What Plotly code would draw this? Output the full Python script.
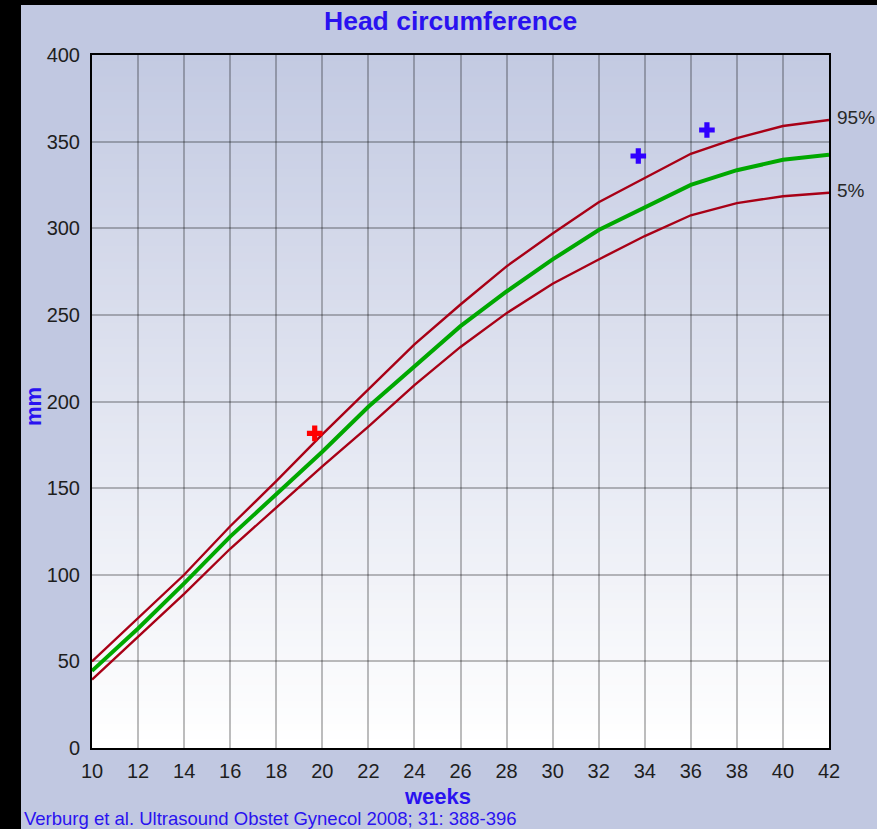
import plotly.graph_objects as go

# ---- data ----
weeks = [10, 12, 14, 16, 18, 20, 22, 24, 26, 28, 30, 32, 34, 36, 38, 40, 42]
p95 = [50, 75, 100, 128, 154, 181, 207, 233, 256, 278, 297, 315, 329, 343, 352, 359, 362.5]
p50 = [44.5, 69, 95, 122, 146.5, 171, 197, 220, 243.5, 263.5, 282, 299, 312, 325, 333.5, 339.5, 342.5]
p5 = [39.5, 64, 89, 115, 139, 162.5, 185.5, 209.5, 231.5, 251, 268, 282, 295.5, 307.5, 314.5, 318.5, 320.5]

meas_red_x = [19.67]
meas_red_y = [181.6]
meas_blue_x = [33.72, 36.7]
meas_blue_y = [341.7, 356.7]

x_ticks = list(range(10, 43, 2))
y_ticks = list(range(0, 401, 50))

# ---- styling ----
W, H = 877, 829
L, R, T, B = 92, 48, 55, 81
PW, PH = W - L - R, H - T - B
BG = "rgb(193,200,225)"
BLUE = "rgb(42,18,240)"
DARKRED = "rgb(168,0,22)"
GREEN = "rgb(0,168,0)"
FONT = "Liberation Sans, Arial, sans-serif"


def px_x(p):
    return (p - L) / PW


def px_y(p):
    return (H - B - p) / PH


fig = go.Figure()

fig.add_trace(go.Scatter(x=weeks, y=p95, mode="lines", line=dict(color=DARKRED, width=2.4),
                         name="95%", hoverinfo="x+y"))
fig.add_trace(go.Scatter(x=weeks, y=p5, mode="lines", line=dict(color=DARKRED, width=2.4),
                         name="5%", hoverinfo="x+y"))
fig.add_trace(go.Scatter(x=weeks, y=p50, mode="lines", line=dict(color=GREEN, width=4),
                         name="50%", hoverinfo="x+y"))
fig.add_trace(go.Scatter(x=meas_red_x, y=meas_red_y, mode="markers",
                         marker=dict(symbol="cross", size=13, color="rgb(255,0,0)", line=dict(width=0)),
                         hoverinfo="x+y"))
fig.add_trace(go.Scatter(x=meas_blue_x, y=meas_blue_y, mode="markers",
                         marker=dict(symbol="cross", size=13, color="rgb(48,0,255)", line=dict(width=0)),
                         hoverinfo="x+y"))

shapes = []
# outer black border strips (left and top)
shapes.append(dict(type="rect", xref="paper", yref="paper", layer="below",
                   x0=px_x(-5), x1=px_x(21), y0=px_y(H + 5), y1=px_y(-5),
                   fillcolor="black", line=dict(width=0)))
shapes.append(dict(type="rect", xref="paper", yref="paper", layer="below",
                   x0=px_x(-5), x1=px_x(W + 5), y0=px_y(5), y1=px_y(-5),
                   fillcolor="black", line=dict(width=0)))
# vertical gradient inside the plot area
top_c = (195, 202, 226)
bot_c = (255, 255, 255)
N = 90
for i in range(N):
    f = i / (N - 1)
    c = tuple(round(top_c[k] + (bot_c[k] - top_c[k]) * f) for k in range(3))
    shapes.append(dict(type="rect", xref="x domain", yref="y domain", layer="below",
                       x0=0, x1=1, y0=1 - (i + 1) / N, y1=1 - i / N + 0.002,
                       fillcolor="rgb(%d,%d,%d)" % c, line=dict(width=0)))

annotations = [
    dict(text="<b>Head circumference</b>", xref="paper", yref="paper", x=px_x(450), y=px_y(20.5),
         xanchor="center", yanchor="middle", showarrow=False, font=dict(family=FONT, size=26.5, color=BLUE)),
    dict(text="<b>mm</b>", xref="paper", yref="paper", x=px_x(33), y=px_y(407), textangle=-90,
         xanchor="center", yanchor="middle", showarrow=False, font=dict(family=FONT, size=22, color=BLUE)),
    dict(text="<b>weeks</b>", xref="paper", yref="paper", x=px_x(437), y=px_y(796),
         xanchor="center", yanchor="middle", showarrow=False, font=dict(family=FONT, size=22, color=BLUE)),
    dict(text="Verburg et al. Ultrasound Obstet Gynecol 2008; 31: 388-396", xref="paper", yref="paper",
         x=px_x(22), y=px_y(818), xanchor="left", yanchor="middle", showarrow=False,
         font=dict(family=FONT, size=18.5, color=BLUE)),
    dict(text="95%", xref="x", yref="y", x=weeks[-1], y=p95[-1], xanchor="left", yanchor="middle",
         xshift=6, yshift=2, showarrow=False, font=dict(family=FONT, size=19, color="rgb(40,40,40)")),
    dict(text="5%", xref="x", yref="y", x=weeks[-1], y=p5[-1], xanchor="left", yanchor="middle",
         xshift=6, yshift=2, showarrow=False, font=dict(family=FONT, size=19, color="rgb(40,40,40)")),
]

fig.update_layout(
    width=W, height=H,
    margin=dict(l=L, r=R, t=T, b=B, pad=0),
    paper_bgcolor=BG,
    plot_bgcolor="rgba(0,0,0,0)",
    showlegend=False,
    shapes=shapes,
    annotations=annotations,
    font=dict(family=FONT, size=20, color="rgb(30,30,30)"),
)
fig.update_xaxes(range=[10, 42], tickvals=x_ticks, ticktext=[str(v) for v in x_ticks],
                 showgrid=True, gridcolor="rgba(0,0,0,0.26)", gridwidth=1.5,
                 showline=True, linecolor="black", linewidth=2, mirror=True,
                 ticks="", ticklabelstandoff=4, zeroline=False,
                 tickfont=dict(family=FONT, size=20, color="rgb(30,30,30)"))
fig.update_yaxes(range=[0, 400], tickvals=y_ticks, ticktext=[str(v) for v in y_ticks],
                 showgrid=True, gridcolor="rgba(0,0,0,0.26)", gridwidth=1.5,
                 showline=True, linecolor="black", linewidth=2, mirror=True,
                 ticks="", ticklabelstandoff=6, zeroline=False,
                 tickfont=dict(family=FONT, size=20, color="rgb(30,30,30)"))

fig.write_html(
    "out.html",
    config={"displayModeBar": False},
    post_script="document.body.style.margin='0';document.body.style.padding='0';"
                "document.body.style.overflow='hidden';document.body.style.background='black';",
)
